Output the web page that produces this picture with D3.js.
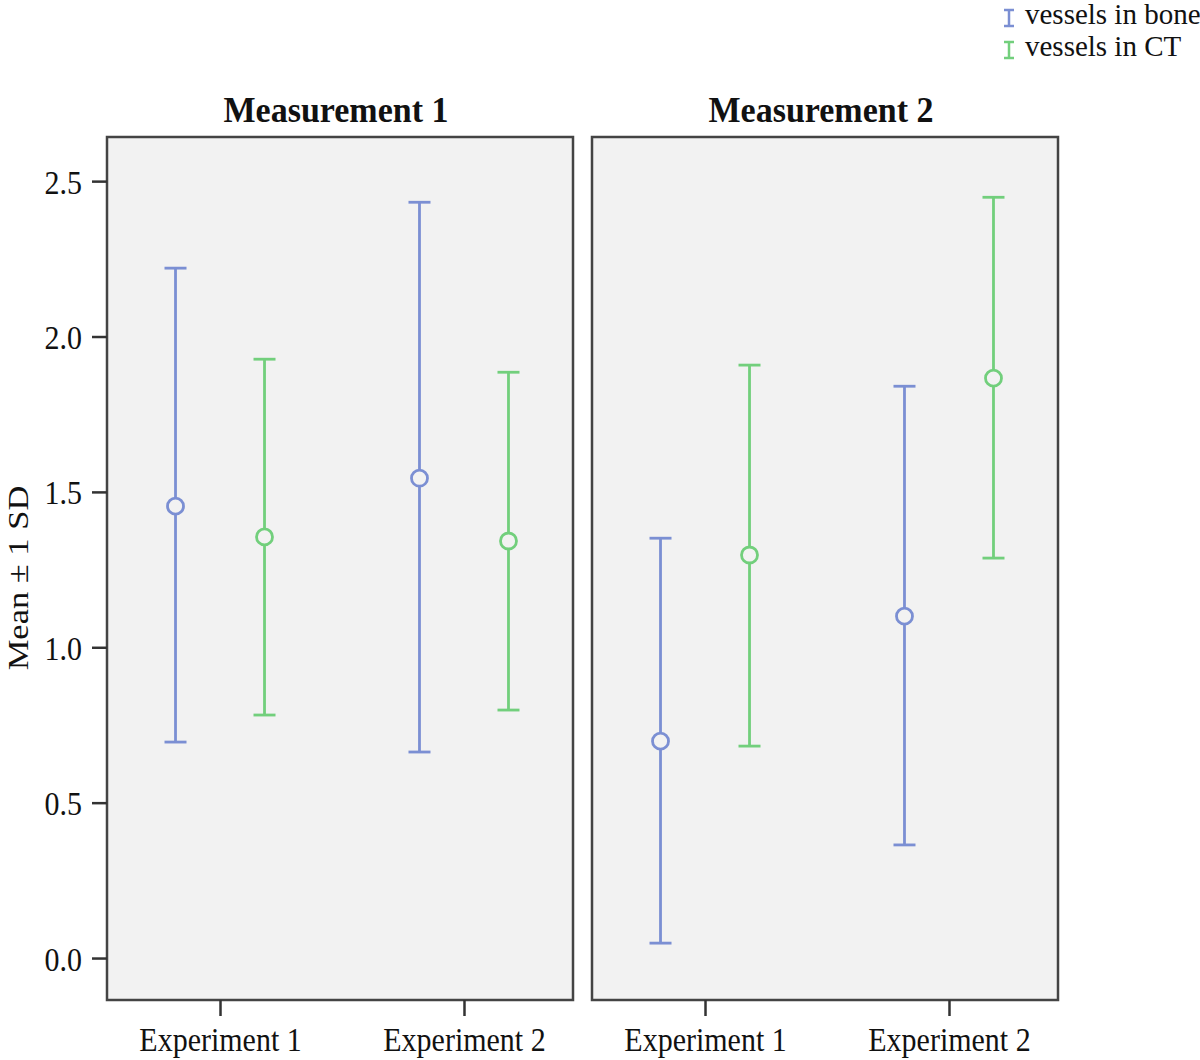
<!DOCTYPE html>
<html><head><meta charset="utf-8">
<script src="https://cdn.jsdelivr.net/npm/d3@7"></script>
<style>
body{margin:0;background:#fff;}
text{font-family:"Liberation Serif","Times New Roman",serif;fill:#111;}
</style></head>
<body><svg id="c" width="1200" height="1060"></svg>
<script>
const panels = ["Measurement 1", "Measurement 2"];
const experiments = ["Experiment 1", "Experiment 2"];
const seriesNames = ["vessels in bone", "vessels in CT"];
const seriesColors = ["#7b8fd3", "#72cf7c"];
const yTicks = [0, 0.5, 1.0, 1.5, 2.0, 2.5];
// [panel][experiment] values
const boneMean  = [[1.454, 1.544], [0.698, 1.100]];
const boneLow   = [[0.695, 0.663], [0.048, 0.364]];
const boneHigh  = [[2.220, 2.432], [1.351, 1.840]];
const ctMean    = [[1.355, 1.342], [1.297, 1.866]];
const ctLow     = [[0.782, 0.798], [0.682, 1.287]];
const ctHigh    = [[1.927, 1.885], [1.908, 2.448]];

const svg = d3.select("#c");
const VS = 1.15;
const plotTop = 137, plotBottom = 1000;
const panelX = [107, 592], panelW = 466;
const y = d3.scaleLinear().domain([-0.135, 2.642]).range([plotBottom, plotTop]);

const rows = [];
panels.forEach((p, pi) => experiments.forEach((e, ei) => {
  rows.push({pi, ei, s: 0, mean: boneMean[pi][ei], lo: boneLow[pi][ei], hi: boneHigh[pi][ei]});
  rows.push({pi, ei, s: 1, mean: ctMean[pi][ei], lo: ctLow[pi][ei], hi: ctHigh[pi][ei]});
}));

panels.forEach((pname, pi) => {
  const g = svg.append("g").attr("transform", `translate(${panelX[pi]},0)`);
  const x = d3.scalePoint().domain(experiments).range([2, panelW + 2]).padding(0.455);
  const off = d3.scalePoint().domain([0, 1]).range([-44.5, 44.5]);
  g.append("rect").attr("x", 0).attr("y", plotTop).attr("width", panelW).attr("height", plotBottom - plotTop)
    .attr("fill", "#f2f2f2").attr("stroke", "#444").attr("stroke-width", 2.5);
  g.append("text").attr("transform", `translate(${panelW/2 - 4},122) scale(1,1.05)`)
    .attr("text-anchor", "middle").style("font-size", "34px").style("font-weight", "bold").text(pname);
  // x axis
  const xa = g.append("g").attr("transform", `translate(0,${plotBottom})`).call(d3.axisBottom(x).tickSize(16).tickPadding(0));
  xa.select(".domain").remove();
  xa.selectAll("line").attr("stroke", "#333").attr("stroke-width", 2.5);
  xa.selectAll("text").attr("y", 0).attr("dy", null).attr("fill", "#111")
    .attr("transform", `translate(0,51) scale(1,${VS})`)
    .style("font-size", "30px").style("font-family", "Liberation Serif, serif");
  if (pi === 0) {
    const ya = g.append("g").call(d3.axisLeft(y).tickValues(yTicks).tickFormat(d3.format(".1f")).tickSize(15).tickPadding(10));
    ya.select(".domain").remove();
    ya.selectAll("line").attr("stroke", "#333").attr("stroke-width", 2.5);
    ya.selectAll("text").attr("fill", "#111").attr("dy", "0.35em").attr("transform", `scale(1,${VS})`)
      .style("font-size", "30px").style("font-family", "Liberation Serif, serif");
  }
  const pr = rows.filter(r => r.pi === pi);
  const cx = r => x(experiments[r.ei]) + off(r.s);
  const eg = g.selectAll("g.err").data(pr).join("g").attr("class", "err")
    .attr("stroke", r => seriesColors[r.s]).attr("stroke-width", 2.8).attr("fill", "none");
  eg.append("line").attr("x1", cx).attr("x2", cx).attr("y1", r => y(r.lo)).attr("y2", r => y(r.hi));
  eg.append("line").attr("x1", r => cx(r) - 11).attr("x2", r => cx(r) + 11).attr("y1", r => y(r.hi)).attr("y2", r => y(r.hi));
  eg.append("line").attr("x1", r => cx(r) - 11).attr("x2", r => cx(r) + 11).attr("y1", r => y(r.lo)).attr("y2", r => y(r.lo));
  eg.append("circle").attr("cx", cx).attr("cy", r => y(r.mean)).attr("r", 8).attr("fill", "#f2f2f2");
});

// y label
svg.append("text").attr("transform", `translate(28,578) scale(1,${VS}) rotate(-90)`)
  .attr("text-anchor", "middle").style("font-size", "30px").text("Mean ± 1 SD");

// legend
const lg = svg.append("g");
seriesNames.forEach((n, i) => {
  const yy = 18 + i * 32;
  const ig = lg.append("g").attr("stroke", seriesColors[i]).attr("stroke-width", 2.5);
  ig.append("line").attr("x1", 1009).attr("x2", 1009).attr("y1", yy - 8).attr("y2", yy + 8);
  ig.append("line").attr("x1", 1004).attr("x2", 1014).attr("y1", yy - 8).attr("y2", yy - 8);
  ig.append("line").attr("x1", 1004).attr("x2", 1014).attr("y1", yy + 8).attr("y2", yy + 8);
  lg.append("text").attr("transform", `translate(1025,${yy + 6}) scale(1,1.05)`)
    .style("font-size", "29px").text(n);
});
</script></body></html>
